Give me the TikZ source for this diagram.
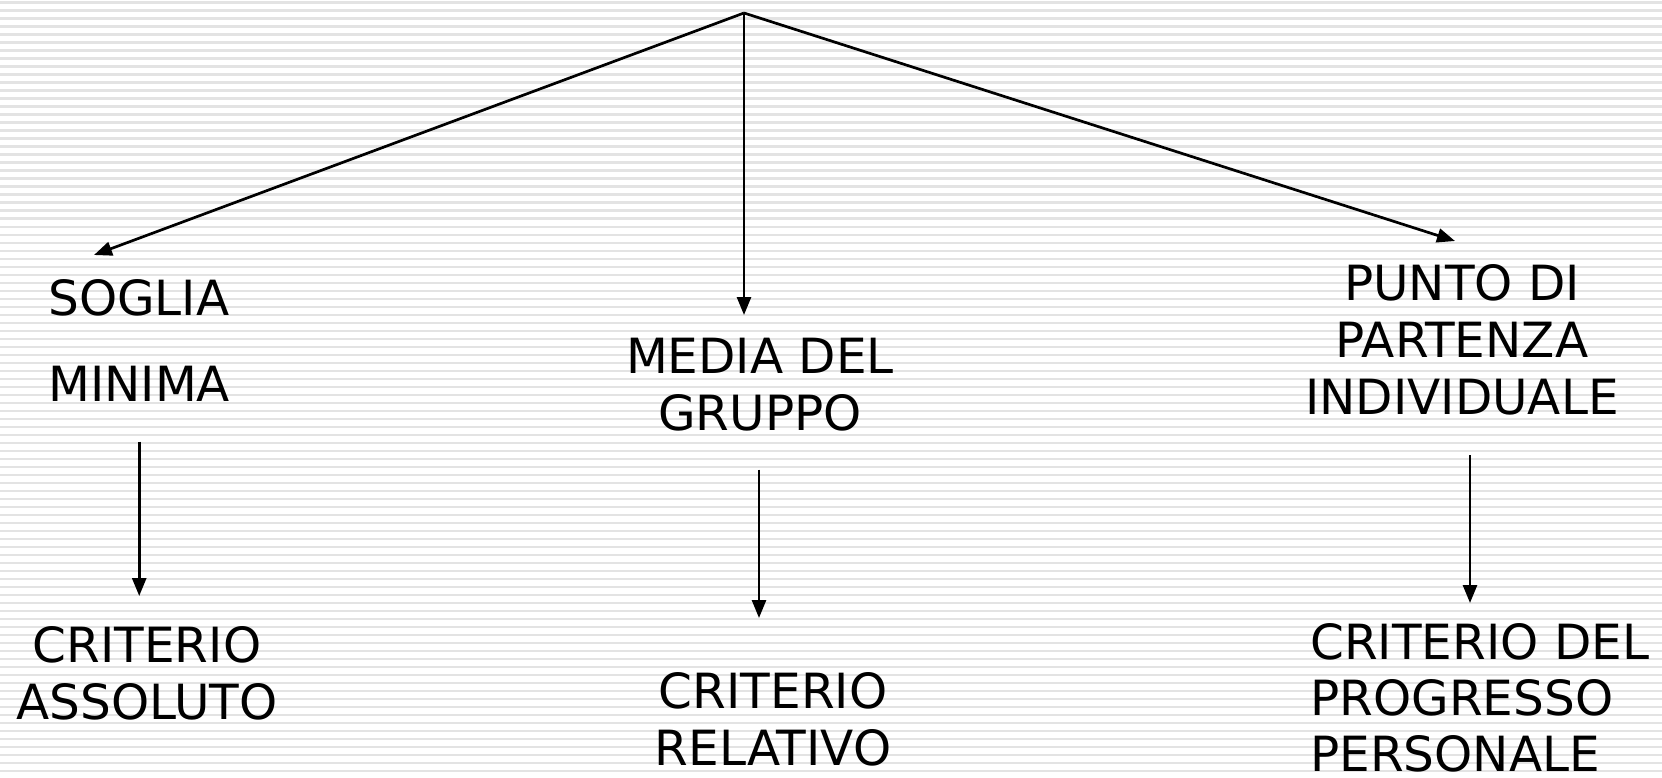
\documentclass[tikz,border=0pt]{standalone}
\usepackage{fontspec}
\setmainfont{DejaVu Sans}
\usetikzlibrary{arrows.meta}

\begin{document}
\begin{tikzpicture}[x=1pt,y=-1pt,>={Triangle[length=18pt,width=14pt]},line width=2.7pt,
  main node/.style={inner sep=0pt,font=\fontsize{48.5}{57}\selectfont,align=center},
  stripe/.style={fill=black!11}]

  \useasboundingbox (0,0) rectangle (1662,778);
  \fill[white] (0,0) rectangle (1662,778);
  \foreach \k in {0,...,97}
    \fill[stripe] (0,8*\k+1.5) rectangle (1662,8*\k+3.7);

  \coordinate (0) at (744,13);

  \node[main node,anchor=north west,align=left,font=\fontsize{48.5}{86}\selectfont] (1) at (47,278) {SOGLIA\\MINIMA};
  \node[main node,anchor=north] (2) at (760,337) {MEDIA DEL\\GRUPPO};
  \node[main node,anchor=north] (3) at (1462,263) {PUNTO DI\\PARTENZA\\INDIVIDUALE};

  \node[main node,anchor=north] (4) at (147,625) {CRITERIO\\ASSOLUTO};
  \node[main node,anchor=north] (5) at (773,671) {CRITERIO\\RELATIVO};
  \node[main node,anchor=north west,align=left,font=\fontsize{48.5}{56}\selectfont] (6) at (1309,622) {CRITERIO DEL\\PROGRESSO\\PERSONALE};

  \coordinate (1a) at (94,255);
  \coordinate (3a) at (1455,241);

\draw [->] (0) -- (1a);
\draw [->,shorten >=22pt] (0) -- (0 |- 2.north);
\draw [->] (0) -- (3a);

\draw [->,shorten <=39pt,shorten >=29pt] (1.south) -- (1.south |- 4.north);
\draw [->,shorten <=37pt,shorten >=53pt] ([xshift=-1pt]2.south) -- ([xshift=-1pt]2.south |- 5.north);
\draw [->,shorten <=39pt,shorten >=19pt] ([xshift=8pt]3.south) -- ([xshift=8pt]3.south |- 6.north);

\end{tikzpicture}
\end{document}
